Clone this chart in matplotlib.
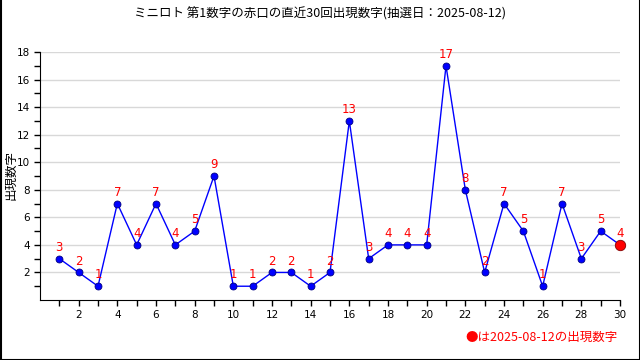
import matplotlib
matplotlib.use("Agg")
import matplotlib.pyplot as plt
from matplotlib.lines import Line2D

plt.rcParams['font.family'] = ['Noto Sans CJK JP', 'DejaVu Sans']

draws = list(range(1, 31))
values = [3, 2, 1, 7, 4, 7, 4, 5, 9, 1, 1, 2, 2, 1, 2, 13, 3, 4, 4, 4,
          17, 8, 2, 7, 5, 1, 7, 3, 5, 4]
title = "ミニロト 第1数字の赤口の直近30回出現数字(抽選日：2025-08-12)"
ylabel = "出現数字"
note = "●は2025-08-12の出現数字"

fig = plt.figure(figsize=(6.4, 3.6), dpi=100)
ax = fig.add_axes([40/640, 1-300/360, 580/640, 248/360])

ax.set_xlim(0, 30)
ax.set_ylim(0, 18)
ax.plot(draws, values, color='blue', lw=1, marker='o', ms=5,
        mfc='blue', mec='#000080', mew=0.6, zorder=3, clip_on=False)
ax.plot(draws[-1], values[-1], marker='o', ms=7.5, mfc='red', mec='#800000',
        mew=0.6, zorder=4, clip_on=False)
for x, v in zip(draws, values):
    ax.annotate(str(v), (x, v), xytext=(0, 3.5), textcoords='offset points',
                ha='center', va='bottom', color='red', fontsize=8.5,
                family='DejaVu Sans')

ax.set_xticks(range(1, 31))
ax.set_xticklabels([str(i) if i % 2 == 0 else '' for i in range(1, 31)])
ax.set_yticks(range(1, 19))
ax.set_yticklabels([str(i) if i % 2 == 0 else '' for i in range(1, 19)])
ax.tick_params(direction='out', length=4, width=1, labelsize=7.5, color='black')
for t in ax.get_xticklabels() + ax.get_yticklabels():
    t.set_family('DejaVu Sans')
for y in range(2, 19, 2):
    ax.axhline(y, color='#d8d8d8', lw=1, zorder=0)
for s in ['top', 'right']:
    ax.spines[s].set_visible(False)

fig.text(11/640, 1-175/360, ylabel, rotation=90, ha='center', va='center', fontsize=9)
fig.text(0.5, 1-14/360, title, ha='center', va='center', fontsize=9)
fig.text(618/640, 1-337/360, note, ha='right', va='center', fontsize=9, color='red')

# figure border
for xs, ys in [([0.5/640, 0.5/640], [0, 1]), ([1-0.5/640, 1-0.5/640], [0, 1]),
               ([0, 1], [0.5/360, 0.5/360])]:
    fig.add_artist(Line2D(xs, ys, color='black', lw=1.5, transform=fig.transFigure))

fig.savefig('out.png', dpi=100)
